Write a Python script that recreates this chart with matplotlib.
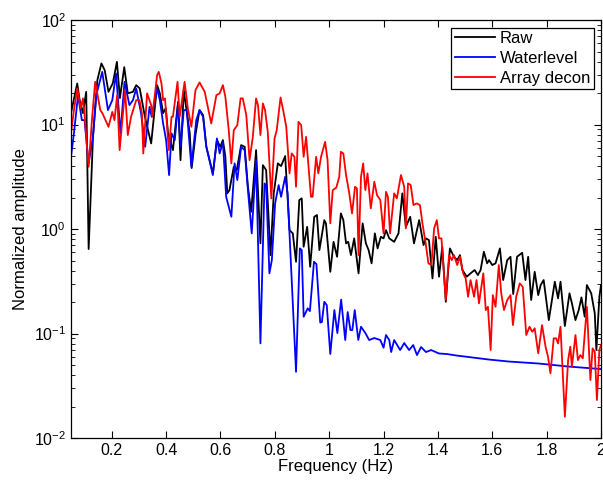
import numpy as np
import matplotlib.pyplot as plt

plt.rcParams['font.family'] = ['Liberation Sans', 'DejaVu Sans']
plt.rcParams['mathtext.default'] = 'regular'

# Raw spectrum: frequency (Hz) and log10 of normalized amplitude
raw_freq = [0.050, 0.073, 0.082, 0.094, 0.106, 0.115, 0.131, 0.147, 0.162, 0.174,
            0.188, 0.204, 0.219, 0.230, 0.246, 0.259, 0.278, 0.290, 0.303, 0.322,
            0.345, 0.367, 0.377, 0.389, 0.399, 0.407, 0.425, 0.444, 0.453, 0.465,
            0.475, 0.487, 0.494, 0.509, 0.523, 0.536, 0.548, 0.572, 0.587, 0.599,
            0.609, 0.618, 0.625, 0.633, 0.649, 0.660, 0.676, 0.689, 0.701, 0.713,
            0.731, 0.747, 0.756, 0.768, 0.784, 0.796, 0.811, 0.823, 0.838, 0.854,
            0.866, 0.878, 0.890, 0.899, 0.906, 0.919, 0.930, 0.945, 0.955, 0.964,
            0.982, 0.988, 1.004, 1.016, 1.029, 1.043, 1.052, 1.062, 1.070, 1.080,
            1.092, 1.108, 1.123, 1.135, 1.145, 1.156, 1.168, 1.178, 1.190, 1.200,
            1.209, 1.221, 1.239, 1.255, 1.269, 1.282, 1.298, 1.312, 1.331, 1.347,
            1.356, 1.367, 1.380, 1.392, 1.404, 1.416, 1.429, 1.444, 1.459, 1.471,
            1.481, 1.490, 1.506, 1.520, 1.535, 1.547, 1.557, 1.569, 1.581, 1.588,
            1.600, 1.612, 1.628, 1.640, 1.655, 1.667, 1.677, 1.691, 1.710, 1.722,
            1.732, 1.743, 1.756, 1.769, 1.778, 1.789, 1.808, 1.830, 1.842, 1.851,
            1.867, 1.884, 1.893, 1.906, 1.918, 1.928, 1.940, 1.948, 1.964, 1.977,
            1.983, 1.994, 2.000]
raw_log = [1.110, 1.394, 1.234, 1.110, 1.314, -0.191, 0.883, 1.426, 1.586, 1.522,
           1.314, 1.397, 1.601, 1.254, 1.550, 1.299, 1.314, 1.378, 1.346, 1.075,
           0.820, 1.378, 1.299, 1.110, 1.158, 0.919, 0.756, 1.218, 0.660, 1.330,
           1.139, 0.919, 0.584, 0.919, 1.139, 1.091, 0.788, 0.533, 0.852, 0.788,
           0.852, 0.692, 0.342, 0.373, 0.596, 0.565, 0.804, 0.788, 0.405, 0.166,
           0.756, -0.137, 0.612, 0.565, -0.249, 0.342, 0.629, 0.603, 0.699, -0.010,
           -0.041, -0.313, 0.278, 0.294, -0.169, 0.022, -0.361, 0.118, 0.134, -0.201,
           0.086, 0.055, -0.409, -0.122, -0.265, 0.150, 0.086, -0.137, -0.122, -0.249,
           -0.089, -0.424, 0.055, -0.137, -0.201, -0.328, -0.041, -0.185, -0.074, -0.089,
           -0.010, -0.089, -0.122, -0.041, 0.342, 0.022, 0.118, -0.137, 0.086, -0.153,
           -0.089, -0.105, -0.472, -0.074, -0.456, -0.169, -0.696, -0.185, -0.265, -0.297,
           -0.249, -0.392, -0.456, -0.424, -0.392, -0.440, -0.392, -0.217, -0.328, -0.297,
           -0.344, -0.328, -0.185, -0.488, -0.297, -0.265, -0.622, -0.265, -0.227, -0.488,
           -0.265, -0.679, -0.409, -0.632, -0.536, -0.488, -0.871, -0.504, -0.663, -0.504,
           -0.928, -0.615, -0.711, -0.871, -0.775, -0.654, -0.839, -0.536, -0.615, -0.807,
           -1.158, -0.648, -0.536]

# Waterlevel deconvolution
wl_freq = [0.050, 0.061, 0.076, 0.090, 0.100, 0.110, 0.115, 0.131, 0.143, 0.165,
           0.186, 0.202, 0.216, 0.232, 0.247, 0.265, 0.278, 0.290, 0.308, 0.323,
           0.339, 0.347, 0.367, 0.377, 0.389, 0.400, 0.411, 0.420, 0.432, 0.444,
           0.453, 0.465, 0.476, 0.493, 0.511, 0.523, 0.536, 0.548, 0.572, 0.587,
           0.597, 0.609, 0.621, 0.640, 0.652, 0.662, 0.676, 0.689, 0.701, 0.715,
           0.731, 0.747, 0.762, 0.768, 0.780, 0.789, 0.801, 0.814, 0.823, 0.838,
           0.847, 0.878, 0.892, 0.899, 0.906, 0.921, 0.929, 0.944, 0.953, 0.967,
           0.973, 0.982, 0.991, 1.004, 1.019, 1.030, 1.044, 1.059, 1.068, 1.078,
           1.085, 1.094, 1.107, 1.117, 1.133, 1.147, 1.166, 1.188, 1.200, 1.209,
           1.221, 1.228, 1.239, 1.250, 1.261, 1.276, 1.294, 1.309, 1.323, 1.338,
           1.356, 1.375, 1.404, 1.433, 1.470, 1.514, 1.588, 1.661, 1.771, 1.881,
           2.000]
wl_log = [0.692, 0.919, 1.282, 1.043, 1.043, 0.756, 0.632, 0.883, 1.282, 1.505,
          1.139, 1.234, 1.490, 0.916, 1.410, 1.187, 1.234, 1.346, 1.107, 0.788,
          1.170, 1.075, 1.346, 1.234, 1.011, 0.852, 0.517, 0.916, 0.852, 1.206,
          0.788, 1.139, 1.139, 0.596, 1.043, 1.139, 1.075, 0.788, 0.517, 0.868,
          0.724, 0.835, 0.309, 0.118, 0.629, 0.469, 0.788, 0.756, 0.373, -0.041,
          0.660, -1.094, 0.437, 0.421, -0.424, -0.297, 0.246, 0.421, 0.309, 0.500,
          0.342, -1.366, -0.185, -0.201, -0.839, -0.759, -0.785, -0.313, -0.335, -0.895,
          -0.890, -0.696, -0.727, -1.196, -0.775, -0.995, -0.675, -1.062, -0.794, -0.967,
          -0.967, -0.775, -1.062, -0.935, -0.995, -1.062, -1.043, -1.062, -1.136, -1.014,
          -1.062, -1.177, -1.062, -1.110, -1.158, -1.091, -1.158, -1.110, -1.206, -1.129,
          -1.177, -1.158, -1.191, -1.196, -1.211, -1.225, -1.249, -1.268, -1.287, -1.316,
          -1.340]

# Array deconvolution
ad_freq = [0.050, 0.060, 0.073, 0.086, 0.094, 0.100, 0.115, 0.128, 0.139, 0.158,
           0.166, 0.188, 0.202, 0.210, 0.220, 0.229, 0.249, 0.259, 0.271, 0.290,
           0.302, 0.311, 0.316, 0.330, 0.345, 0.349, 0.367, 0.373, 0.383, 0.389,
           0.396, 0.410, 0.420, 0.425, 0.442, 0.450, 0.468, 0.480, 0.493, 0.508,
           0.523, 0.542, 0.566, 0.585, 0.597, 0.609, 0.618, 0.631, 0.640, 0.649,
           0.662, 0.674, 0.682, 0.695, 0.707, 0.719, 0.731, 0.738, 0.747, 0.756,
           0.764, 0.774, 0.787, 0.799, 0.807, 0.821, 0.833, 0.842, 0.854, 0.862,
           0.872, 0.878, 0.887, 0.897, 0.906, 0.915, 0.933, 0.939, 0.952, 0.960,
           0.970, 0.985, 0.994, 1.004, 1.013, 1.026, 1.037, 1.043, 1.052, 1.062,
           1.073, 1.084, 1.095, 1.102, 1.108, 1.117, 1.125, 1.133, 1.141, 1.153,
           1.166, 1.176, 1.188, 1.200, 1.209, 1.216, 1.224, 1.239, 1.249, 1.264,
           1.276, 1.282, 1.290, 1.300, 1.310, 1.322, 1.334, 1.343, 1.355, 1.365,
           1.376, 1.386, 1.396, 1.404, 1.413, 1.429, 1.441, 1.451, 1.459, 1.471,
           1.481, 1.493, 1.502, 1.511, 1.520, 1.533, 1.542, 1.551, 1.567, 1.576,
           1.584, 1.594, 1.602, 1.612, 1.624, 1.633, 1.643, 1.655, 1.667, 1.676,
           1.688, 1.701, 1.712, 1.725, 1.737, 1.747, 1.756, 1.769, 1.783, 1.796,
           1.805, 1.814, 1.826, 1.835, 1.842, 1.851, 1.867, 1.879, 1.887, 1.893,
           1.906, 1.915, 1.924, 1.933, 1.948, 1.961, 1.969, 1.977, 1.985, 1.994,
           2.000]
ad_log = [0.916, 1.122, 1.346, 1.155, 1.251, 1.091, 0.596, 1.075, 1.410, 1.139,
          1.107, 0.979, 1.122, 1.043, 1.282, 0.756, 1.330, 0.900, 1.075, 1.234,
          1.234, 1.107, 0.724, 1.299, 1.187, 1.075, 1.474, 1.505, 1.394, 1.234,
          1.251, 0.756, 1.075, 1.075, 1.410, 1.075, 1.410, 1.155, 0.979, 1.330,
          1.404, 1.314, 1.011, 1.282, 1.299, 1.378, 1.266, 0.931, 0.629, 0.947,
          0.995, 1.251, 1.251, 1.091, 0.660, 0.883, 1.251, 1.187, 0.900, 1.203,
          1.139, 0.931, 0.294, 0.868, 0.947, 1.260, 1.107, 0.979, 0.533, 0.724,
          0.692, 0.405, 1.027, 0.995, 0.692, 0.883, 0.309, 0.309, 0.692, 0.533,
          0.692, 0.835, 0.660, 0.055, 0.373, 0.397, 0.500, 0.740, 0.724, 0.517,
          0.357, 0.150, 0.405, 0.389, -0.249, 0.500, 0.629, 0.373, 0.533, 0.198,
          0.453, 0.325, 0.278, -0.041, 0.357, 0.309, -0.041, 0.342, 0.294, 0.517,
          0.405, 0.007, 0.437, 0.421, 0.230, 0.246, 0.230, 0.055, -0.137, -0.328,
          -0.344, 0.007, 0.086, -0.089, -0.089, -0.679, -0.249, -0.297, -0.249, -0.344,
          -0.265, -0.424, -0.472, -0.648, -0.488, -0.648, -0.488, -0.711, -0.424, -0.775,
          -0.744, -1.158, -0.632, -0.744, -0.344, -0.615, -0.775, -0.679, -0.632, -0.919,
          -0.648, -0.520, -0.552, -1.014, -0.935, -0.983, -0.950, -1.189, -0.919, -1.126,
          -1.222, -1.381, -1.046, -1.046, -1.094, -0.935, -1.796, -1.254, -1.126, -1.318,
          -1.014, -1.254, -1.206, -1.237, -0.744, -1.445, -1.142, -1.174, -1.636, -1.158,
          -1.110]

fig = plt.figure(figsize=(6.03, 4.87), dpi=100)
ax = fig.add_axes([0.1177, 0.1006, 0.879, 0.858])

ax.plot(raw_freq, 10 ** np.array(raw_log), color='k', lw=1.3, label='Raw')
ax.plot(wl_freq, 10 ** np.array(wl_log), color='#0000ff', lw=1.3, label='Waterlevel')
ax.plot(ad_freq, 10 ** np.array(ad_log), color='#ff0000', lw=1.3, label='Array decon')

ax.set_yscale('log')
ax.set_xlim(0.05, 2)
ax.set_ylim(1e-2, 1e2)
ax.set_xticks([0.2, 0.4, 0.6, 0.8, 1, 1.2, 1.4, 1.6, 1.8, 2])
ax.set_xticklabels(['0.2', '0.4', '0.6', '0.8', '1', '1.2', '1.4', '1.6', '1.8', '2'])
ax.tick_params(which='both', direction='in', top=True, right=True, labelsize=11.5)
ax.tick_params(which='major', length=5)
ax.tick_params(which='minor', length=3)
for s in ax.spines.values():
    s.set_linewidth(0.9)

ax.set_xlabel('Frequency (Hz)', fontsize=12, labelpad=1)
ax.set_ylabel('Normalized amplitude', fontsize=12, labelpad=4)

leg = ax.legend(loc='upper right', fontsize=12, fancybox=False, framealpha=1,
                edgecolor='k', borderaxespad=0.45, handlelength=2.4,
                handletextpad=0.3, labelspacing=0.3, borderpad=0.2)
leg.get_frame().set_linewidth(0.9)

fig.savefig('out.png', dpi=100)
